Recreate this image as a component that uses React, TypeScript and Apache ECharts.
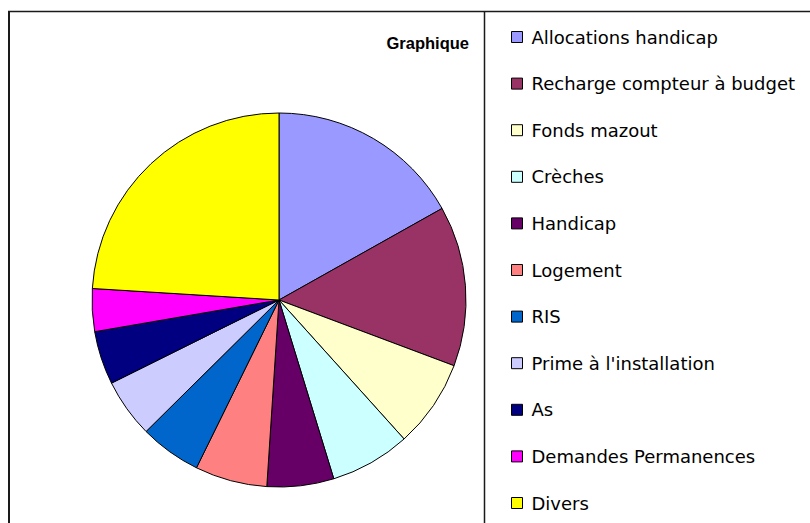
import React, { useEffect, useRef } from "react";
import * as echarts from "echarts";

const categories = [
  "Allocations handicap",
  "Recharge compteur à budget",
  "Fonds mazout",
  "Crèches",
  "Handicap",
  "Logement",
  "RIS",
  "Prime à l'installation",
  "As",
  "Demandes Permanences",
  "Divers",
];
const values = [73, 60, 33, 30, 25, 27, 23, 22, 20, 16, 104];
const colors = [
  "#9999FF",
  "#993366",
  "#FFFFCC",
  "#CCFFFF",
  "#660066",
  "#FF8080",
  "#0066CC",
  "#CCCCFF",
  "#000080",
  "#FF00FF",
  "#FFFF00",
];
const titleText = "Graphique";

export default function App() {
  const ref = useRef<HTMLDivElement>(null);
  useEffect(() => {
    if (!ref.current) return;
    const chart = echarts.init(ref.current, undefined, { renderer: "svg" });
    chart.setOption({
      animation: false,
      backgroundColor: "#ffffff",
      title: {
        text: titleText,
        right: 341,
        top: 34,
        padding: 0,
        textStyle: {
          fontFamily: "Liberation Sans",
          fontSize: 16.5,
          fontWeight: "bold",
          color: "#000",
        },
      },
      legend: {
        orient: "vertical",
        left: 511,
        top: 27,
        padding: 0,
        itemWidth: 11,
        itemHeight: 11,
        itemGap: 26.6,
        icon: "rect",
        selectedMode: false,
        itemStyle: { borderColor: "#000", borderWidth: 1 },
        textStyle: {
          fontFamily: "DejaVu Sans",
          fontSize: 18,
          lineHeight: 20,
          color: "#000",
          padding: [0, 0, 0, 4],
        },
        data: categories,
      },
      graphic: [
        { type: "line", shape: { x1: 8, y1: 11.5, x2: 810, y2: 11.5 }, style: { stroke: "#1a1a1a", lineWidth: 1.5 } },
        { type: "line", shape: { x1: 9, y1: 11, x2: 9, y2: 523 }, style: { stroke: "#1a1a1a", lineWidth: 2 } },
        { type: "line", shape: { x1: 484.5, y1: 11, x2: 484.5, y2: 523 }, style: { stroke: "#1a1a1a", lineWidth: 1.5 } },
      ],
      series: [
        {
          type: "pie",
          center: [279, 300],
          radius: 187,
          startAngle: 90,
          clockwise: true,
          silent: true,
          label: { show: false },
          labelLine: { show: false },
          itemStyle: { borderColor: "#000", borderWidth: 1 },
          data: categories.map((name, i) => ({
            name,
            value: values[i],
            itemStyle: { color: colors[i] },
          })),
        },
      ],
    });
    return () => chart.dispose();
  }, []);
  return (
    <div
      ref={ref}
      style={{ position: "fixed", left: 0, top: 0, width: 810, height: 523 }}
    />
  );
}
